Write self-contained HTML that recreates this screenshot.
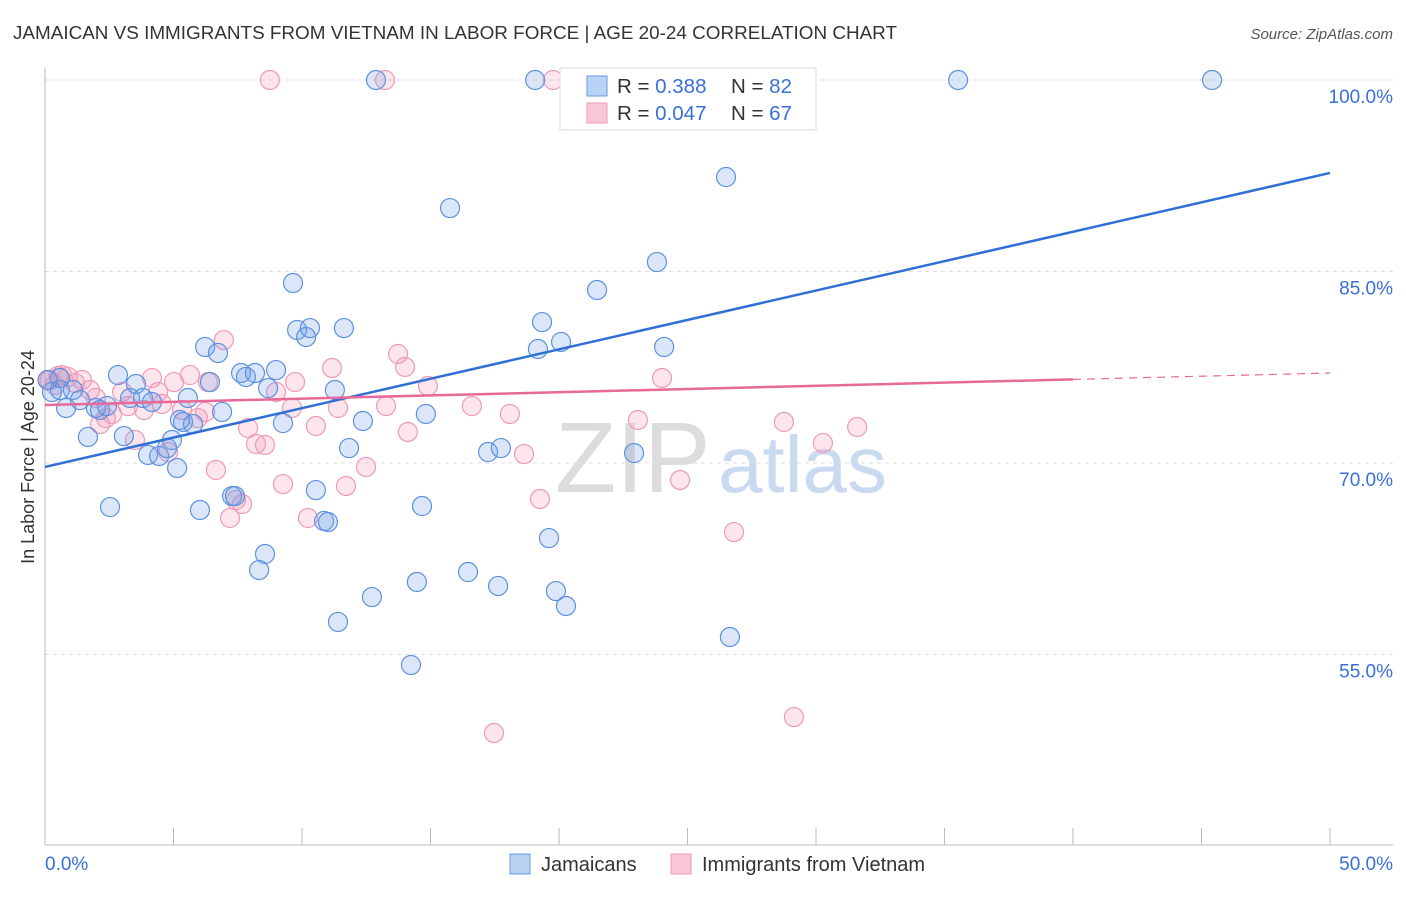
<!DOCTYPE html>
<html><head><meta charset="utf-8"><style>
body{margin:0;background:#fff;font-family:"Liberation Sans",sans-serif;}
svg text{font-family:"Liberation Sans",sans-serif;}
</style></head><body>
<svg id="chart" width="1406" height="892">
<text x="13" y="39" font-size="18" textLength="884" lengthAdjust="spacingAndGlyphs" fill="#333">JAMAICAN VS IMMIGRANTS FROM VIETNAM IN LABOR FORCE | AGE 20-24 CORRELATION CHART</text>
<text x="1393" y="39" font-size="15" fill="#555" font-style="italic" text-anchor="end">Source: ZipAtlas.com</text>
<text transform="translate(34,457) rotate(-90)" font-size="18" fill="#333" text-anchor="middle">In Labor Force | Age 20-24</text>
<text x="555" y="492" font-size="100" fill="#dcdcdc" font-family="Liberation Serif">ZIP</text>
<text x="718" y="492" font-size="80" fill="#c9d9ef">atlas</text>
<g id="grid"></g><g id="axes"></g><g id="pink"></g><g id="blue"></g><g id="lines"></g>
<g>
<rect x="560" y="68" width="256" height="62" fill="#fff" stroke="#ddd"/>
<rect x="587" y="76" width="20" height="20" fill="#b9d3f5" stroke="#6b9ae0"/>
<rect x="587" y="103" width="20" height="20" fill="#f9c6d6" stroke="#ee9ab7"/>
<text x="617" y="93" font-size="20.5" fill="#333">R = <tspan fill="#3a6fd8">0.388</tspan></text>
<text x="731" y="93" font-size="20.5" fill="#333">N = <tspan fill="#3a6fd8">82</tspan></text>
<text x="617" y="120" font-size="20.5" fill="#333">R = <tspan fill="#3a6fd8">0.047</tspan></text>
<text x="731" y="120" font-size="20.5" fill="#333">N = <tspan fill="#3a6fd8">67</tspan></text>
</g>
<g>
<rect x="510" y="854" width="20" height="20" fill="#b9d3f5" stroke="#6b9ae0"/>
<text x="541" y="871" font-size="20" fill="#333">Jamaicans</text>
<rect x="671" y="854" width="20" height="20" fill="#f9c6d6" stroke="#ee9ab7"/>
<text x="702" y="871" font-size="20" fill="#333">Immigrants from Vietnam</text>
</g>
</svg>
<script>
const yTicks=[100,85,70,55];
const xTickLabels=["0.0%","50.0%"];
const blueX=[0.27,0.58,0.82,1.09,1.36,1.67,1.98,2.14,2.53,2.41,2.84,3.07,3.31,3.54,3.81,4.01,4.16,4.44,4.75,4.94,5.14,5.37,5.56,5.76,6.03,6.23,6.42,6.73,6.89,7.28,7.39,7.63,7.82,8.17,8.33,8.56,8.68,8.99,9.26,9.65,9.81,10.16,10.31,10.54,10.86,11.01,11.28,11.63,11.83,12.37,12.72,12.88,14.24,14.47,14.67,14.82,15.76,16.46,17.24,17.63,17.74,19.07,19.18,19.34,19.61,19.88,20.08,20.27,21.48,22.92,23.81,24.09,26.5,26.65,27.35,27.7,35.53,45.41,11.4,0.58,5.25,0.1];
const blueY=[75.56,75.72,74.31,75.72,74.93,72.04,74.31,74.15,66.55,74.46,76.89,72.11,75.09,76.19,75.09,70.63,74.78,70.55,71.17,71.8,69.61,73.21,75.09,73.05,66.32,79.09,76.34,78.62,74.0,67.41,67.41,77.05,76.74,77.05,61.62,62.87,75.87,77.28,73.13,84.1,80.42,79.87,80.57,67.88,65.46,65.38,75.72,80.57,71.17,73.29,59.5,100,54.18,60.68,66.63,73.84,89.97,61.46,70.86,60.37,71.17,100,78.93,81.04,64.12,59.97,79.48,58.8,83.55,70.78,85.74,79.09,92.4,56.37,100,100,100,100,57.55,76.66,73.37,76.5];
const pinkX=[0.19,0.39,0.66,0.89,1.17,1.44,1.75,1.98,2.14,2.37,2.61,3.0,3.23,3.5,3.85,4.16,4.4,4.55,4.79,5.02,5.33,5.64,5.95,6.23,6.34,6.65,6.96,7.2,7.43,7.67,7.9,8.21,8.56,8.75,8.99,9.26,9.61,9.73,10.23,10.54,11.17,11.4,11.71,12.49,13.27,13.74,14.01,14.12,14.9,16.61,17.47,18.09,18.64,19.26,19.77,20.51,23.07,24.01,24.71,26.81,28.75,29.14,30.27,31.6,13.23,0.12,0.51];
const pinkY=[76.5,76.11,76.89,76.74,76.27,76.5,75.72,75.09,73.05,73.52,73.84,75.56,74.46,71.8,74.15,76.66,75.56,74.62,70.86,76.34,74.15,76.89,73.52,74.0,76.34,69.45,79.63,65.69,67.1,66.79,72.74,71.49,71.41,100,75.56,68.35,74.31,76.34,65.69,72.9,77.44,74.31,68.2,69.69,74.46,78.54,77.52,72.43,76.03,74.46,48.85,73.84,70.7,67.18,100,100,73.37,76.66,68.67,64.59,73.21,50.1,71.57,72.82,100,76.5,76.81];
const blueTrend=[69.69,92.72];
const pinkTrend=[74.54,77.05];
const pinkSolidEnd=40;
const NS="http://www.w3.org/2000/svg";
const sx=v=>45+v*25.7;
const sy=v=>80+(100-v)*191.5/15;
function mk(parent,tag,attrs){const e=document.createElementNS(NS,tag);for(const k in attrs)e.setAttribute(k,attrs[k]);document.getElementById(parent).appendChild(e);return e;}
yTicks.forEach(t=>{
 const l=mk('grid','line',{x1:45,x2:1393,y1:sy(t),y2:sy(t),stroke:'#ddd','stroke-dasharray':'4,4'});
 
 
 const tx=mk('grid','text',{x:1393,y:sy(t)+23,'font-size':19,fill:'#3a6fd8','text-anchor':'end'});
 tx.textContent=t.toFixed(1)+'%';
 
 
});
const ax=mk('axes','line',{x1:45,x2:45,y1:68,y2:845,stroke:'#bbb'});


const bx=mk('axes','line',{x1:45,x2:1393,y1:845,y2:845,stroke:'#bbb'});


for(let i=1;i<=10;i++){const t=mk('axes','line',{x1:sx(i*5),x2:sx(i*5),y1:828,y2:845,stroke:'#bbb'});
 
 }
[[0,'start',45],[50,'end',1393]].forEach((d,i)=>{const t=mk('axes','text',{x:d[2],y:870,'font-size':19,fill:'#3a6fd8','text-anchor':d[1]});t.textContent=xTickLabels[i];
 
 });
pinkX.forEach((x,i)=>{const c=mk('pink','circle',{cx:sx(x),cy:sy(pinkY[i]),r:9.5,fill:'rgba(242,150,180,0.25)',stroke:'#ef9ab8','stroke-width':1.2});
 
 });
blueX.forEach((x,i)=>{const c=mk('blue','circle',{cx:sx(x),cy:sy(blueY[i]),r:9.5,fill:'rgba(110,160,230,0.25)',stroke:'#5d91e0','stroke-width':1.2});
 
 });
const bl=mk('lines','line',{x1:sx(0),y1:sy(blueTrend[0]),x2:sx(50),y2:sy(blueTrend[1]),stroke:'#2f6fd6','stroke-width':2.5});


const pe=pinkTrend[0]+(pinkTrend[1]-pinkTrend[0])*pinkSolidEnd/50;
const pl=mk('lines','line',{x1:sx(0),y1:sy(pinkTrend[0]),x2:sx(pinkSolidEnd),y2:sy(pe),stroke:'#e8689a','stroke-width':2.5});


const pd=mk('lines','line',{x1:sx(pinkSolidEnd),y1:sy(pe),x2:sx(50),y2:sy(pinkTrend[1]),stroke:'#e8689a','stroke-width':1.2,'stroke-dasharray':'8,6'});


</script>
</body></html>
